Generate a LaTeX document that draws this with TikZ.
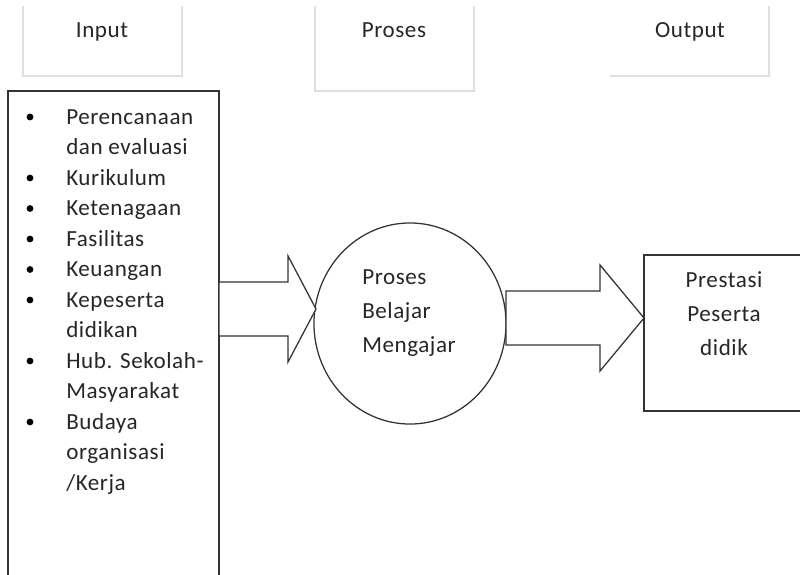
\documentclass[tikz,border=0pt]{standalone}
\usepackage{fontspec}
\setmainfont{Carlito}[LetterSpace=2.5]
\usetikzlibrary{calc}
\usetikzlibrary{shapes.geometric}

\begin{document}
\begin{tikzpicture}[x=0.025cm,y=-0.025cm,
	txt/.style={font=\fontsize{16.4}{20}\selectfont,inner sep=0pt,text=black!85},
	dotmark/.style={circle,fill=black,inner sep=0pt,minimum size=0.17cm},
	hdbox/.style={draw=black!12,line width=1pt},
	frame/.style={draw=black!80,line width=0.9pt,inner sep=0pt,outer sep=0pt},
	barrow/.style={draw=black!80,fill=white,line width=0.9pt,line join=miter}]
\useasboundingbox (0,0) rectangle (800,574);

\draw[hdbox] (23,6) -- (23,76) -- (182,76) -- (182,6);
\draw[hdbox] (315,6) -- (315,91) -- (474,91) -- (474,6);
\draw[hdbox] (610,76) -- (769,76) -- (769,6);
\node[txt,anchor=base] (hin) at (102,37) {Input};
\node[txt,anchor=base] (hpr) at (394,37) {Proses};
\node[txt,anchor=base] (hout) at (690,37) {Output};

\node[frame,rectangle,anchor=north west,minimum width=5.275cm,minimum height=12.8cm] (inbox) at (8,91) {};
\node[frame,ellipse,minimum width=4.8cm,minimum height=5.025cm] (pbm) at (410,323.5) {};
\node[frame,rectangle,anchor=north west,minimum width=4.5cm,minimum height=3.9cm] (outbox) at (644,255) {};

\foreach \b/\t [count=\i from 0] in {1/Perencanaan,0/dan evaluasi,1/Kurikulum,1/Ketenagaan,1/Fasilitas,1/Keuangan,1/Kepeserta,0/didikan,1/Hub. Sekolah-,0/Masyarakat,1/Budaya,0/organisasi,0/{/Kerja}}{
	\node[txt,anchor=base west] (item\i) at (66,124+30.5*\i) {\t};
	\ifnum\b=1 \node[dotmark] (dot\i) at (30,117+30.5*\i) {}; \fi
}

\node[txt,anchor=base west] (p1) at (362,284) {Proses};
\node[txt,anchor=base west] (p2) at (362,318) {Belajar};
\node[txt,anchor=base west] (p3) at (362,352) {Mengajar};

\node[txt,anchor=base] (o1) at (724,287) {Prestasi};
\node[txt,anchor=base] (o2) at (724,321) {Peserta};
\node[txt,anchor=base] (o3) at (724,355) {didik};

\coordinate (tip1) at (316,309);
\coordinate (tip2) at (644,318);
\draw[barrow] (inbox.east |- tip1) ++(0,-27) -- ++(69,0) -- ++(0,-26) -- (tip1)
	-- ++(-28,53) -- ++(0,-26) -- ++(-69,0) -- cycle;
\draw[barrow] (pbm.east |- tip2) ++(0,-27) -- ++(94,0) -- ++(0,-26) -- (tip2)
	-- ++(-44,53) -- ++(0,-26) -- ++(-94,0) -- cycle;
\end{tikzpicture}
\end{document}
